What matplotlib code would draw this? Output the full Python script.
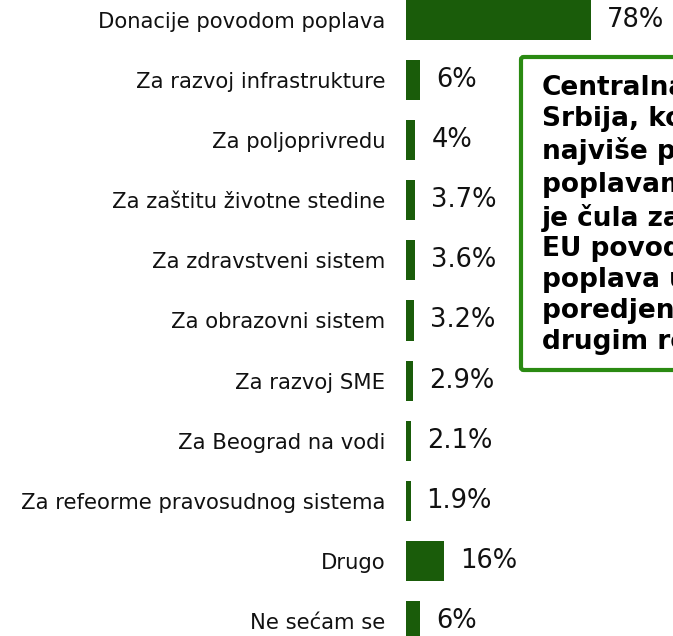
import matplotlib
matplotlib.use('Agg')
import matplotlib.pyplot as plt
from matplotlib.patches import FancyBboxPatch

categories = [
    'Donacije povodom poplava',
    'Za razvoj infrastrukture',
    'Za poljoprivredu',
    'Za zaštitu životne stedine',
    'Za zdravstveni sistem',
    'Za obrazovni sistem',
    'Za razvoj SME',
    'Za Beograd na vodi',
    'Za refeorme pravosudnog sistema',
    'Drugo',
    'Ne sećam se',
]
values = [78, 6, 4, 3.7, 3.6, 3.2, 2.9, 2.1, 1.9, 16, 6]
value_labels = ['78%', '6%', '4%', '3.7%', '3.6%', '3.2%', '2.9%', '2.1%', '1.9%', '16%', '6%']

box_lines = [
    'Centralna',
    'Srbija, koja je',
    'najviše pogodjena',
    'poplavama, više',
    'je čula za pomoć',
    'EU povodom',
    'poplava u',
    'poredjenju sa',
    'drugim regionima',
]

BAR_COLOR = '#1a5c0a'
BOX_COLOR = '#2a8a12'
W, H = 673, 636

fig = plt.figure(figsize=(W / 100, H / 100), dpi=100)
ax = fig.add_axes([406 / W, 0, 1 - 406 / W, 1])

ypos = list(range(len(categories)))
ax.barh(ypos, values, height=0.666, color=BAR_COLOR)
for y, v, lab in zip(ypos, values, value_labels):
    ax.annotate(lab, (v, y), xytext=(11.5, 0), textcoords='offset points',
                va='center', ha='left', fontsize=18.5, color='#111111')

ax.set_ylim(10.25, -0.333)
ax.set_xlim(0, 112.6)
ax.set_yticks(ypos)
ax.set_yticklabels(categories, fontsize=15.2, color='#111111')
ax.tick_params(axis='y', length=0, pad=15)
ax.set_xticks([])
for s in ax.spines.values():
    s.set_visible(False)

# comment box, cut off at right edge
box = FancyBboxPatch((521 / W, 1 - 370 / H), 200 / W, 313 / H,
                     boxstyle='round,pad=0,rounding_size=0.004',
                     transform=fig.transFigure, facecolor='white',
                     edgecolor=BOX_COLOR, linewidth=3, zorder=3)
fig.add_artist(box)
fig.text(542 / W, 1 - 75 / H, '\n'.join(box_lines), ha='left', va='top',
         fontsize=19, fontweight='bold', linespacing=1.24, zorder=4)

fig.savefig('out.png', dpi=100)
